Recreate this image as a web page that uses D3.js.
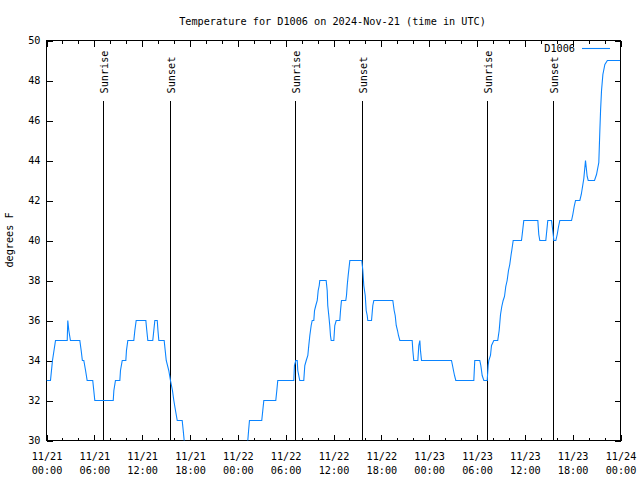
<!DOCTYPE html>
<html>
<head>
<meta charset="utf-8">
<script src="https://cdn.jsdelivr.net/npm/d3@7/dist/d3.min.js"></script>
<style>
  html, body { margin: 0; padding: 0; background: #fff; }
  svg { display: block; }
  text { font-family: "DejaVu Sans Mono", "Liberation Mono", monospace; font-size: 10.2px; fill: #000; }
</style>
</head>
<body>
<svg id="chart" width="640" height="480"></svg>
<script>
// ---------- data ----------
const title = "Temperature for D1006 on 2024-Nov-21 (time in UTC)";
const seriesName = "D1006";
const yLabel = "degrees F";
const startUTC = Date.UTC(2024, 10, 21, 0, 0);
// hours since 2024-11-21 00:00 UTC
const hours = [
  0, 0.5, 0.75, 1.13, 2.6, 2.67, 2.8, 3.0, 4.18, 4.35, 4.5, 4.68, 4.9, 5.1, 5.8, 5.93, 6.06,
  8.37, 8.45, 8.65, 9.2, 9.28, 9.5, 9.95, 10.03, 10.2, 10.95, 11.08, 11.25, 12.46, 12.58, 12.71,
  13.33, 13.46, 13.59, 13.89, 13.98, 14.09, 14.76, 14.89, 15.02, 15.34, 15.55, 15.8, 15.97, 16.18,
  16.4, 17.02, 17.15, 17.27, 17.45, 18.0, 20.0, 22.0, 24.0, 25.05, 25.25, 25.35, 25.46,
  27.0, 27.13, 27.26, 28.76, 28.89, 29.01, 31.02, 31.1, 31.27, 31.45, 31.52, 31.77, 32.27, 32.4,
  32.58, 32.78, 32.9, 33.03, 33.2, 33.33, 33.53, 33.62, 33.78, 33.96, 34.08, 34.21, 34.28, 35.08,
  35.21, 35.28, 35.41, 35.53, 35.62, 35.71, 36.04, 36.16, 36.34, 36.79, 36.88, 37.0, 37.54, 37.63,
  37.72, 37.84, 38.05, 39.55, 39.68, 39.8, 39.98, 40.1, 40.23, 40.3, 40.77, 40.93, 41.06, 43.44,
  43.61, 43.74, 43.87, 44.03, 44.15, 44.32, 45.87, 45.95, 46.07, 46.58, 46.7, 46.83, 46.91, 47.04,
  50.8, 50.93, 51.05, 51.18, 51.34, 53.6, 53.72, 54.35, 54.48, 54.65, 54.86, 55.28, 55.4, 55.48,
  55.69, 55.82, 56.11, 56.6, 56.78, 56.95, 57.11, 57.28, 57.45, 57.61, 57.78, 57.95, 58.11, 58.28,
  58.36, 58.54, 59.58, 59.67, 59.87, 61.63, 61.75, 61.88, 62.63, 62.88, 63.35, 63.56, 63.64, 63.89,
  64.06, 64.23, 64.39, 65.86, 66.02, 66.19, 66.36, 66.9, 67.08, 67.28, 67.4, 67.61, 67.82, 67.95,
  68.74, 68.99, 69.28, 69.41, 69.5, 69.62, 69.79, 70.04, 70.35, 71.95
];
const temps = [
  33, 33, 34, 35, 35, 36, 35.5, 35, 35, 34.5, 34, 34, 33.5, 33, 33, 32.5, 32,
  32, 32.5, 33, 33, 33.5, 34, 34, 34.5, 35, 35, 35.5, 36, 36, 35.5, 35,
  35, 35.5, 36, 36, 35.5, 35, 35, 34.5, 34, 33.5, 33, 32.5, 32, 31.5,
  31, 31, 30.5, 30, 29.5, 29, 28, 28, 28.5, 29.5, 30, 30.5, 31,
  31, 31.5, 32, 32, 32.5, 33, 33, 33.75, 34, 34, 33.5, 33, 33, 33.75,
  34, 34.25, 34.75, 35.25, 35.75, 36, 36, 36.5, 36.75, 37, 37.5, 37.75, 38, 38,
  37.5, 36.75, 36.25, 35.75, 35.25, 35, 35, 35.75, 36, 36, 36.5, 37, 37, 37.25,
  37.75, 38.25, 39, 39, 38.5, 37.75, 37.25, 36.5, 36.25, 36, 36, 36.75, 37, 37,
  36.5, 36.25, 35.75, 35.5, 35.25, 35, 35, 34.5, 34, 34, 34.75, 35, 34.5, 34,
  34, 33.75, 33.5, 33.25, 33, 33, 34, 34, 33.75, 33.25, 33, 33, 33.75, 34,
  34.25, 34.75, 35, 35, 35.5, 36.3, 36.7, 37, 37.2, 37.7, 38, 38.5, 38.8, 39.3,
  39.5, 40, 40, 40.3, 41, 41, 40.3, 40, 40, 41, 41, 40.3, 40, 40,
  40.3, 40.7, 41, 41, 41.3, 41.7, 42, 42, 42.3, 42.8, 43.1, 44, 43.2, 43,
  43, 43.3, 43.9, 45.5, 46.5, 47.5, 48.3, 48.8, 49, 49
];
const eventNames = ["Sunrise", "Sunset", "Sunrise", "Sunset", "Sunrise", "Sunset"];
const eventHours = [7.15, 15.55, 31.23, 39.64, 55.3, 63.6];
const yTicks = [30, 32, 34, 36, 38, 40, 42, 44, 46, 48, 50];
const xMajorHours = [0, 6, 12, 18, 24, 30, 36, 42, 48, 54, 60, 66, 72];
const xMinorHours = d3.range(0, 73, 2).filter(h => h % 6 !== 0);

// ---------- layout ----------
const svg = d3.select("#chart");
const L = 46.5, R = 620.5, T = 40.5, B = 440.5;
const toDate = h => new Date(startUTC + h * 3600e3);
const x = d3.scaleUtc().domain([toDate(0), toDate(72)]).range([L, R]);
const y = d3.scaleLinear().domain([30, 50]).range([B, T]);

svg.append("defs").append("clipPath").attr("id", "clip")
  .append("rect").attr("x", L).attr("y", T).attr("width", R - L).attr("height", B - T);

// title
svg.append("text").attr("x", 332.5).attr("y", 24.5).attr("text-anchor", "middle").text(title);

// y label
svg.append("text").attr("transform", "translate(13,240) rotate(-90)")
  .attr("text-anchor", "middle").text(yLabel);

const fmtDate = d3.utcFormat("%m/%d"), fmtTime = d3.utcFormat("%H:%M");

// bottom axis (major)
const gB = svg.append("g").attr("transform", `translate(0,${B})`)
  .call(d3.axisBottom(x).tickValues(xMajorHours.map(toDate)).tickSize(-6).tickPadding(9).tickFormat(""));
gB.selectAll(".tick text").each(function(d) {
  const t = d3.select(this);
  t.text(null).attr("y", 0).attr("dy", null);
  t.append("tspan").attr("x", 0).attr("y", 19).text(fmtDate(d));
  t.append("tspan").attr("x", 0).attr("y", 33).text(fmtTime(d));
});
// bottom minor
svg.append("g").attr("transform", `translate(0,${B})`)
  .call(d3.axisBottom(x).tickValues(xMinorHours.map(toDate)).tickSize(-3).tickFormat(""));
// top axis
svg.append("g").attr("transform", `translate(0,${T})`)
  .call(d3.axisTop(x).tickValues(xMajorHours.map(toDate)).tickSize(-6).tickFormat(""));
svg.append("g").attr("transform", `translate(0,${T})`)
  .call(d3.axisTop(x).tickValues(xMinorHours.map(toDate)).tickSize(-3).tickFormat(""));
// left axis
svg.append("g").attr("transform", `translate(${L},0)`)
  .call(d3.axisLeft(y).tickValues(yTicks).tickSize(-6).tickPadding(6).tickFormat(d3.format("d")));
// right axis
svg.append("g").attr("transform", `translate(${R},0)`)
  .call(d3.axisRight(y).tickValues(yTicks).tickSize(-6).tickFormat(""));

svg.selectAll(".domain").remove();
svg.selectAll(".tick line").attr("stroke", "#000").attr("shape-rendering", "crispEdges");
svg.selectAll(".tick text").attr("font-family", "DejaVu Sans Mono").attr("font-size", "10.2px").attr("fill", "#000");

// border
svg.append("rect").attr("x", L).attr("y", T).attr("width", R - L).attr("height", B - T)
  .attr("fill", "none").attr("stroke", "#000").attr("shape-rendering", "crispEdges");

// sunrise / sunset lines
const ev = svg.append("g");
eventHours.forEach((h, i) => {
  const xv = Math.round(x(toDate(h)) - 0.5) + 0.5;
  ev.append("line").attr("x1", xv).attr("x2", xv).attr("y1", y(47)).attr("y2", B)
    .attr("stroke", "#000").attr("stroke-width", 1).attr("shape-rendering", "crispEdges");
  ev.append("text").attr("transform", `translate(${xv + 4},${y(47) - 7}) rotate(-90)`)
    .attr("text-anchor", "start").text(eventNames[i]);
});

// data line
const pts = hours.map((h, i) => [toDate(h), temps[i]]);
svg.append("path").datum(pts)
  .attr("clip-path", "url(#clip)")
  .attr("fill", "none").attr("stroke", "#0a84ff").attr("stroke-width", 1.1)
  .attr("d", d3.line().x(d => x(d[0])).y(d => y(d[1])));

// legend
svg.append("text").attr("x", 575).attr("y", 52).attr("text-anchor", "end").text(seriesName);
svg.append("line").attr("x1", 582).attr("x2", 610).attr("y1", 48.5).attr("y2", 48.5)
  .attr("stroke", "#0a84ff").attr("stroke-width", 1.1);
</script>
</body>
</html>
